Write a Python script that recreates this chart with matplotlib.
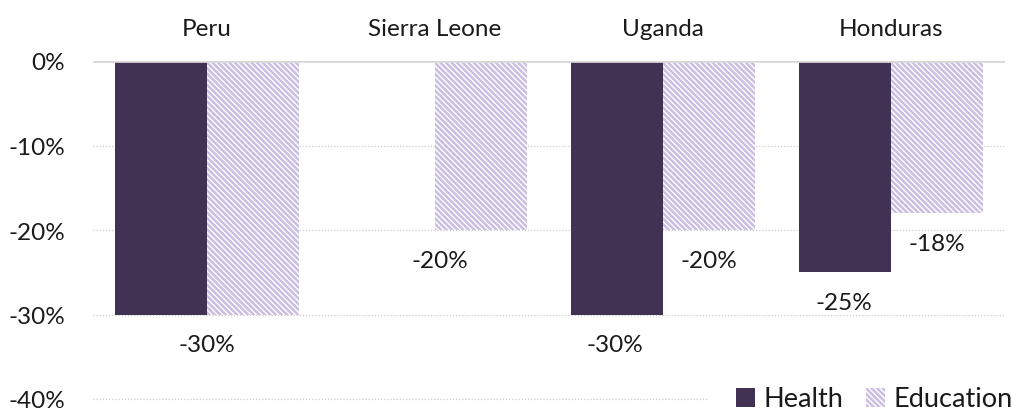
import matplotlib
matplotlib.use("Agg")
import matplotlib.pyplot as plt
import numpy as np

plt.rcParams['font.family'] = ['Lato', 'DejaVu Sans']
plt.rcParams['hatch.linewidth'] = 1.8

categories = ["Peru", "Sierra Leone", "Uganda", "Honduras"]
health = [-0.30, np.nan, -0.30, -0.25]
education = [-0.30, -0.20, -0.20, -0.18]
yticks = [0, -0.10, -0.20, -0.30, -0.40]
ytick_labels = ["0%", "-10%", "-20%", "-30%", "-40%"]

health_color = "#413152"
edu_hatch_color = "#cabee2"

fig = plt.figure(figsize=(10.13, 4.14), dpi=100)
ax = fig.add_axes([93/1013, 1-400/414, 912/1013, 338/414])

x = np.arange(len(categories))
w = 0.405
ax.bar(x - w/2, health, width=w, color=health_color, label="Health", zorder=3)
ax.bar(x + w/2, education, width=w, color="white", edgecolor=edu_hatch_color,
       hatch="\\\\\\\\\\\\", linewidth=0, label="Education", zorder=3)

ax.set_xlim(-0.5, 3.5)
ax.set_ylim(-0.40, 0)
ax.set_yticks(yticks)
ax.set_yticklabels(ytick_labels)
ax.tick_params(axis='y', length=0, pad=20, labelsize=17.5, labelcolor="#1a1a1a")
ax.xaxis.tick_top()
ax.set_xticks(x)
ax.set_xticklabels(categories)
ax.tick_params(axis='x', length=0, pad=16, labelsize=17.5, labelcolor="#1a1a1a")

for s in ax.spines.values():
    s.set_visible(False)
for v in yticks[1:]:
    ax.axhline(v, color="#cccccc", lw=0.9, ls=(0, (1, 1.5)), zorder=1, clip_on=False)
ax.axhline(0, color="#d9d9d9", lw=2, zorder=4)

# data labels (series, category index, value, pixel x offset from bar center)
label_specs = [
    ("e", 0, education[0], -46),
    ("e", 1, education[1], -41),
    ("h", 2, health[2], -2),
    ("e", 2, education[2], 0),
    ("h", 3, health[3], -1),
    ("e", 3, education[3], 0),
]
for s, i, v, dx in label_specs:
    xc = x[i] - w/2 if s == "h" else x[i] + w/2
    ax.annotate(f"{v*100:.0f}%", (xc, v), xytext=(dx, -30), textcoords="offset pixels",
                ha="center", va="center", fontsize=17.5, color="#1a1a1a")

leg = fig.legend(loc="center right", bbox_to_anchor=(1.026, 1-400/414), ncol=2, frameon=True,
                 fontsize=19.5, handlelength=0.7, handleheight=0.7, handletextpad=0.3,
                 columnspacing=0.85, borderaxespad=0, borderpad=1.0)
leg.get_frame().set_facecolor("white")
leg.get_frame().set_edgecolor("white")
leg.get_frame().set_alpha(1)
for t in leg.get_texts():
    t.set_color("#1a1a1a")

fig.savefig("out.png", dpi=100)
